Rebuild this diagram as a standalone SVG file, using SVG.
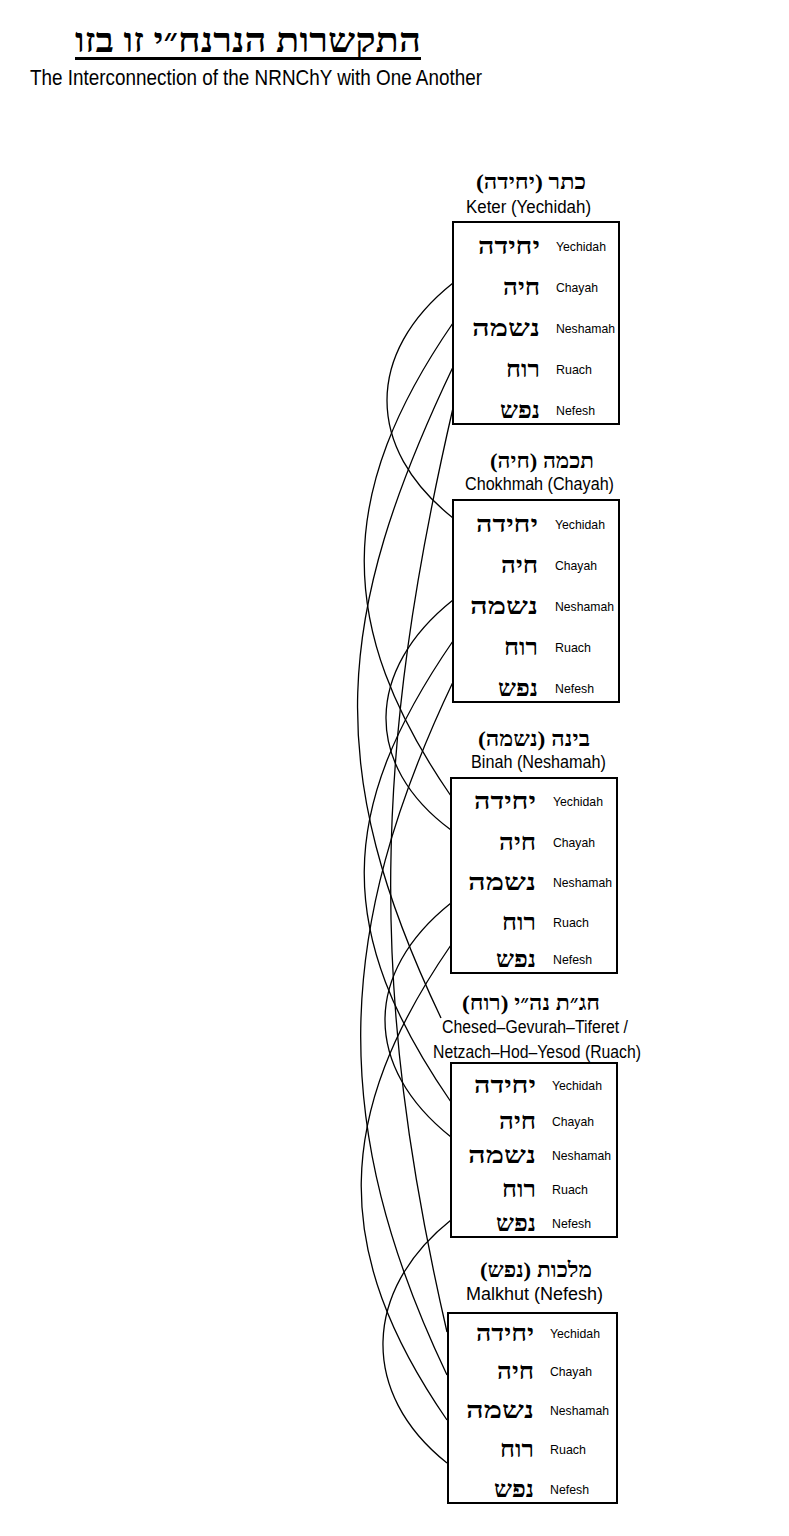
<svg xmlns="http://www.w3.org/2000/svg" width="789" height="1536" viewBox="0 0 789 1536">
<style>
.bg{fill:#fff}
.box{fill:none;stroke:#000;stroke-width:2}
.heb{font-family:"Liberation Serif","DejaVu Sans",serif;font-weight:bold;font-size:24px;fill:#000}
.hh{font-family:"Liberation Serif","DejaVu Sans",serif;font-weight:bold;font-size:21px;fill:#000;direction:rtl;unicode-bidi:embed}
.eng{font-family:"Liberation Sans",Arial,sans-serif;font-size:13.5px;fill:#000}
.he{font-family:"Liberation Sans",Arial,sans-serif;font-size:17.5px;fill:#000}
.con path{fill:none;stroke:#000;stroke-width:1.3}
</style>
<rect class="bg" x="0" y="0" width="789" height="1536"/>
<g id="title">
<text x="248" y="52" text-anchor="middle" textLength="346" lengthAdjust="spacingAndGlyphs" style="font-family:'Liberation Serif','DejaVu Sans',serif;font-weight:bold;font-size:34px;direction:rtl;unicode-bidi:embed">התקשרות הנרנח״י זו בזו</text>
<line x1="75" y1="58.5" x2="421" y2="58.5" stroke="#000" stroke-width="3"/>
<text x="30" y="85" textLength="452" lengthAdjust="spacingAndGlyphs" style="font-family:'Liberation Sans',Arial,sans-serif;font-size:21.5px">The Interconnection of the NRNChY with One Another</text>
</g>
<g id="connectors" class="con">
<path d="M453,283 C365,353 365,448 453,518"/>
<path d="M453,323 C336,493 334,626 451,796"/>
<path d="M453,367 C334,617 322,768 441,1018"/>
<path d="M453,408 C374,750 368,990 447,1332"/>
<path d="M453,600 C365,670 363,765 451,830"/>
<path d="M453,641 C336,811 334,932 451,1102"/>
<path d="M453,682 C334,932 328,1125 447,1375"/>
<path d="M451,903 C363,973 363,1067 451,1137"/>
<path d="M451,945 C334,1115 330,1250 447,1420"/>
<path d="M451,1220 C363,1290 359,1393 447,1463"/>
</g>
<g id="keter">
<text class="hh" x="531" y="189" text-anchor="middle" textLength="110" lengthAdjust="spacingAndGlyphs">כתר (יחידה)</text>
<text class="he" x="528.5" y="213" text-anchor="middle" textLength="125" lengthAdjust="spacingAndGlyphs">Keter (Yechidah)</text>
<rect class="box" x="453" y="222" width="166" height="202" fill="#fff"/>
<text class="heb" x="540" y="254" text-anchor="end" textLength="62" lengthAdjust="spacingAndGlyphs">יחידה</text><text class="eng" x="556" y="251" textLength="50" lengthAdjust="spacingAndGlyphs">Yechidah</text>
<text class="heb" x="540" y="295" text-anchor="end" textLength="37" lengthAdjust="spacingAndGlyphs">חיה</text><text class="eng" x="556" y="292" textLength="42" lengthAdjust="spacingAndGlyphs">Chayah</text>
<text class="heb" x="540" y="336" text-anchor="end" textLength="68" lengthAdjust="spacingAndGlyphs">נשמה</text><text class="eng" x="556" y="333" textLength="59" lengthAdjust="spacingAndGlyphs">Neshamah</text>
<text class="heb" x="540" y="377" text-anchor="end" textLength="34" lengthAdjust="spacingAndGlyphs">רוח</text><text class="eng" x="556" y="374" textLength="36" lengthAdjust="spacingAndGlyphs">Ruach</text>
<text class="heb" x="540" y="418" text-anchor="end" textLength="40" lengthAdjust="spacingAndGlyphs">נפש</text><text class="eng" x="556" y="415" textLength="39" lengthAdjust="spacingAndGlyphs">Nefesh</text>
</g>
<g id="chokhmah">
<text class="hh" x="542" y="468" text-anchor="middle" textLength="104" lengthAdjust="spacingAndGlyphs">תכמה (חיה)</text>
<text class="he" x="539.5" y="490" text-anchor="middle" textLength="149" lengthAdjust="spacingAndGlyphs">Chokhmah (Chayah)</text>
<rect class="box" x="453" y="500" width="166" height="202"/>
<text class="heb" x="538" y="532" text-anchor="end" textLength="62" lengthAdjust="spacingAndGlyphs">יחידה</text><text class="eng" x="555" y="529" textLength="50" lengthAdjust="spacingAndGlyphs">Yechidah</text>
<text class="heb" x="538" y="573" text-anchor="end" textLength="37" lengthAdjust="spacingAndGlyphs">חיה</text><text class="eng" x="555" y="570" textLength="42" lengthAdjust="spacingAndGlyphs">Chayah</text>
<text class="heb" x="538" y="614" text-anchor="end" textLength="68" lengthAdjust="spacingAndGlyphs">נשמה</text><text class="eng" x="555" y="611" textLength="59" lengthAdjust="spacingAndGlyphs">Neshamah</text>
<text class="heb" x="538" y="655" text-anchor="end" textLength="34" lengthAdjust="spacingAndGlyphs">רוח</text><text class="eng" x="555" y="652" textLength="36" lengthAdjust="spacingAndGlyphs">Ruach</text>
<text class="heb" x="538" y="696" text-anchor="end" textLength="40" lengthAdjust="spacingAndGlyphs">נפש</text><text class="eng" x="555" y="693" textLength="39" lengthAdjust="spacingAndGlyphs">Nefesh</text>
</g>
<g id="binah">
<text class="hh" x="534" y="746" text-anchor="middle" textLength="112" lengthAdjust="spacingAndGlyphs">בינה (נשמה)</text>
<text class="he" x="538.5" y="768" text-anchor="middle" textLength="135" lengthAdjust="spacingAndGlyphs">Binah (Neshamah)</text>
<rect class="box" x="451" y="778" width="166" height="195"/>
<text class="heb" x="536" y="809" text-anchor="end" textLength="62" lengthAdjust="spacingAndGlyphs">יחידה</text><text class="eng" x="553" y="806" textLength="50" lengthAdjust="spacingAndGlyphs">Yechidah</text>
<text class="heb" x="536" y="850" text-anchor="end" textLength="37" lengthAdjust="spacingAndGlyphs">חיה</text><text class="eng" x="553" y="847" textLength="42" lengthAdjust="spacingAndGlyphs">Chayah</text>
<text class="heb" x="536" y="890" text-anchor="end" textLength="68" lengthAdjust="spacingAndGlyphs">נשמה</text><text class="eng" x="553" y="887" textLength="59" lengthAdjust="spacingAndGlyphs">Neshamah</text>
<text class="heb" x="536" y="930" text-anchor="end" textLength="34" lengthAdjust="spacingAndGlyphs">רוח</text><text class="eng" x="553" y="927" textLength="36" lengthAdjust="spacingAndGlyphs">Ruach</text>
<text class="heb" x="536" y="967" text-anchor="end" textLength="40" lengthAdjust="spacingAndGlyphs">נפש</text><text class="eng" x="553" y="964" textLength="39" lengthAdjust="spacingAndGlyphs">Nefesh</text>
</g>
<g id="chagat">
<text class="hh" x="531" y="1010" text-anchor="middle" textLength="138" lengthAdjust="spacingAndGlyphs">חג״ת נה״י (רוח)</text>
<text class="he" x="535" y="1033" text-anchor="middle" textLength="186" lengthAdjust="spacingAndGlyphs">Chesed–Gevurah–Tiferet /</text>
<text class="he" x="537" y="1058" text-anchor="middle" textLength="208" lengthAdjust="spacingAndGlyphs">Netzach–Hod–Yesod (Ruach)</text>
<rect class="box" x="451" y="1063" width="166" height="174"/>
<text class="heb" x="536" y="1093" text-anchor="end" textLength="62" lengthAdjust="spacingAndGlyphs">יחידה</text><text class="eng" x="552" y="1090" textLength="50" lengthAdjust="spacingAndGlyphs">Yechidah</text>
<text class="heb" x="536" y="1129" text-anchor="end" textLength="37" lengthAdjust="spacingAndGlyphs">חיה</text><text class="eng" x="552" y="1126" textLength="42" lengthAdjust="spacingAndGlyphs">Chayah</text>
<text class="heb" x="536" y="1163" text-anchor="end" textLength="68" lengthAdjust="spacingAndGlyphs">נשמה</text><text class="eng" x="552" y="1160" textLength="59" lengthAdjust="spacingAndGlyphs">Neshamah</text>
<text class="heb" x="536" y="1197" text-anchor="end" textLength="34" lengthAdjust="spacingAndGlyphs">רוח</text><text class="eng" x="552" y="1194" textLength="36" lengthAdjust="spacingAndGlyphs">Ruach</text>
<text class="heb" x="536" y="1231" text-anchor="end" textLength="40" lengthAdjust="spacingAndGlyphs">נפש</text><text class="eng" x="552" y="1228" textLength="39" lengthAdjust="spacingAndGlyphs">Nefesh</text>
</g>
<g id="malkhut">
<text class="hh" x="536" y="1277" text-anchor="middle" textLength="112" lengthAdjust="spacingAndGlyphs">מלכות (נפש)</text>
<text class="he" x="534.5" y="1300" text-anchor="middle" textLength="137" lengthAdjust="spacingAndGlyphs">Malkhut (Nefesh)</text>
<rect class="box" x="448" y="1313" width="169" height="190"/>
<text class="heb" x="534" y="1341" text-anchor="end" textLength="58" lengthAdjust="spacingAndGlyphs">יחידה</text><text class="eng" x="550" y="1338" textLength="50" lengthAdjust="spacingAndGlyphs">Yechidah</text>
<text class="heb" x="534" y="1379" text-anchor="end" textLength="37" lengthAdjust="spacingAndGlyphs">חיה</text><text class="eng" x="550" y="1376" textLength="42" lengthAdjust="spacingAndGlyphs">Chayah</text>
<text class="heb" x="534" y="1418" text-anchor="end" textLength="68" lengthAdjust="spacingAndGlyphs">נשמה</text><text class="eng" x="550" y="1415" textLength="59" lengthAdjust="spacingAndGlyphs">Neshamah</text>
<text class="heb" x="534" y="1457" text-anchor="end" textLength="34" lengthAdjust="spacingAndGlyphs">רוח</text><text class="eng" x="550" y="1454" textLength="36" lengthAdjust="spacingAndGlyphs">Ruach</text>
<text class="heb" x="534" y="1497" text-anchor="end" textLength="40" lengthAdjust="spacingAndGlyphs">נפש</text><text class="eng" x="550" y="1494" textLength="39" lengthAdjust="spacingAndGlyphs">Nefesh</text>
</g>
</svg>
